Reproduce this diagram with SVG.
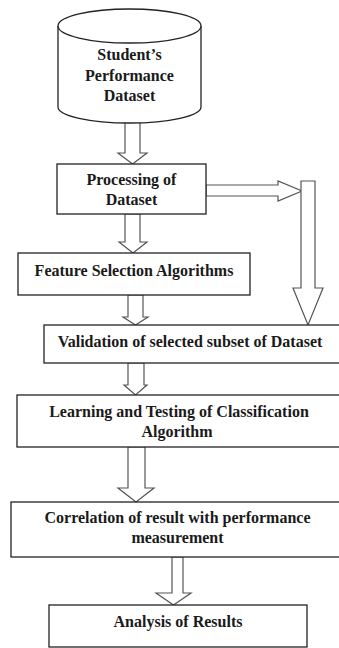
<svg xmlns="http://www.w3.org/2000/svg" width="339" height="648" viewBox="0 0 339 648">
<style>
.box{fill:#fff;stroke:#222;stroke-width:1.3}
.arr{fill:#fff;stroke:#555;stroke-width:1.2;stroke-linejoin:miter}
text{font-family:"Liberation Serif","Times New Roman",serif;font-weight:bold;font-size:16px;fill:#1a1a1a;text-anchor:middle}
</style>
<rect width="339" height="648" fill="#fff"/>
<g id="connectors">
<polygon class="arr" points="125,121 140,121 140,153 147,153 132.5,164 118,153 125,153"/>
<polygon class="arr" points="125,214 140,214 140,242 147,242 133,253 119,242 125,242"/>
<polygon class="arr" points="128,295 143,295 143,317 148,317 135.5,325 123,317 128,317"/>
<polygon class="arr" points="128,363 144,363 144,385 147,385 135.5,395 124,385 128,385"/>
<polygon class="arr" points="128,447 145,447 145,488 154,488 136,502 118,488 128,488"/>
<polygon class="arr" points="172,557 183,557 183,593 191,593 173.5,605 156,593 172,593"/>
<polygon class="arr" points="206,185 278,185 278,181 302,191 278,201 278,196 206,196"/>
<polygon class="arr" points="301,181 315,181 315,288 323,288 308,325 293,288 301,288"/>
</g>
<g id="dataset">
<path class="box" d="M58,26 L58,107 A71.5,16 0 0 0 201,107 L201,26"/>
<ellipse class="box" cx="129.5" cy="26" rx="71.5" ry="17"/>
<text x="129.5" y="60">Student’s</text>
<text x="129.5" y="81">Performance</text>
<text x="129.5" y="101">Dataset</text>
</g>
<g id="processing">
<rect class="box" x="57" y="164" width="149" height="50"/>
<text x="131.5" y="185">Processing of</text>
<text x="131.5" y="205">Dataset</text>
</g>
<g id="feature">
<rect class="box" x="18" y="253" width="232" height="42"/>
<text x="134" y="276">Feature Selection Algorithms</text>
</g>
<g id="validation">
<rect class="box" x="44" y="325" width="300" height="38"/>
<text x="190" y="347">Validation of selected subset of Dataset</text>
</g>
<g id="learning">
<rect class="box" x="17" y="395" width="327" height="52"/>
<text x="179" y="417">Learning and Testing of Classification</text>
<text x="177" y="437">Algorithm</text>
</g>
<g id="correlation">
<rect class="box" x="11" y="502" width="333" height="55"/>
<text x="177.5" y="523">Correlation of result with performance</text>
<text x="177.5" y="543">measurement</text>
</g>
<g id="analysis">
<rect class="box" x="49" y="605" width="258" height="42"/>
<text x="178" y="627">Analysis of Results</text>
</g>
</svg>
